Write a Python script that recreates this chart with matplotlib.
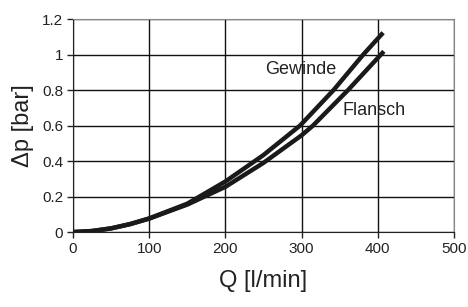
import matplotlib
matplotlib.use("Agg")
import matplotlib.pyplot as plt
from matplotlib.ticker import FuncFormatter

plt.rcParams['font.family'] = ['Liberation Sans', 'DejaVu Sans']

q_gewinde = [0, 25, 50, 75, 100, 150, 200, 250, 298, 342, 381, 407]
dp_gewinde = [0, 0.006, 0.021, 0.045, 0.077, 0.16, 0.285, 0.434, 0.6, 0.8, 1.0, 1.123]
q_flansch = [0, 25, 50, 75, 100, 150, 200, 250, 300, 315, 361, 408]
dp_flansch = [0, 0.006, 0.021, 0.045, 0.076, 0.155, 0.255, 0.39, 0.545, 0.6, 0.8, 1.018]

xticks = [0, 100, 200, 300, 400, 500]
yticks = [0, 0.2, 0.4, 0.6, 0.8, 1.0, 1.2]

fig = plt.figure(figsize=(4.68, 3.07), dpi=100)
ax = fig.add_axes([0.156, 0.244, 0.814, 0.694])

ax.plot(q_gewinde, dp_gewinde, color='#1a1a1a', lw=3.2, solid_capstyle='butt',
        solid_joinstyle='round', zorder=3)
ax.plot(q_flansch, dp_flansch, color='#1a1a1a', lw=3.2, solid_capstyle='butt',
        solid_joinstyle='round', zorder=3)

ax.set_xlim(0, 500)
ax.set_ylim(0, 1.2)
ax.set_xticks(xticks)
ax.set_yticks(yticks)
ax.yaxis.set_major_formatter(FuncFormatter(lambda v, p: f"{v:g}"))
ax.grid(True, color='#111111', lw=1.0)
ax.set_axisbelow(True)
for s in ['top', 'right']:
    ax.spines[s].set_color('#888888')
for s in ['left', 'bottom']:
    ax.spines[s].set_color('#222222')
ax.tick_params(direction='out', length=4, width=1, colors='#222222', labelsize=11,
               labelcolor='#222222', pad=3)

ax.text(299, 0.918, 'Gewinde', fontsize=13, color='#222222', ha='center', va='center')
ax.text(395, 0.687, 'Flansch', fontsize=13, color='#222222', ha='center', va='center')

ax.set_xlabel('Q [l/min]', fontsize=17, color='#222222', labelpad=10)
ax.set_ylabel('Δp [bar]', fontsize=17, color='#222222', labelpad=6)

fig.savefig('out.png', dpi=100)
